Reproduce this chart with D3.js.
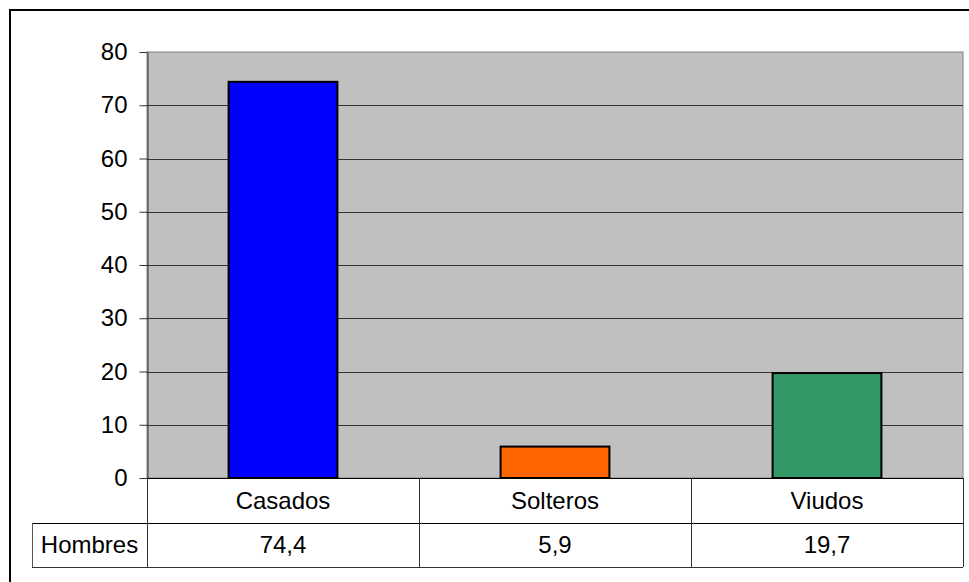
<!DOCTYPE html>
<html>
<head>
<meta charset="utf-8">
<script src="https://cdn.jsdelivr.net/npm/d3@7"></script>
<style>
  body { margin: 0; background: #fff; }
  text { font-family: "Liberation Sans", Arial, sans-serif; }
</style>
</head>
<body>
<div id="chart"></div>
<script>
var categories = ["Casados", "Solteros", "Viudos"];
var values = [74.4, 5.9, 19.7];
var valueLabels = ["74,4", "5,9", "19,7"];
var seriesName = "Hombres";
var colors = ["#0000FF", "#FF6600", "#339966"];
var yTicks = [0, 10, 20, 30, 40, 50, 60, 70, 80];

var W = 969, H = 582;
var plotL = 147, plotR = 963, plotT = 52, plotB = 478;
var row1 = 523, row2 = 567, tableLeft = 32;

var svg = d3.select("#chart").append("svg")
  .attr("width", W)
  .attr("height", H);

// outer chart border (cropped on right and bottom)
svg.append("rect")
  .attr("x", 10).attr("y", 10)
  .attr("width", 962).attr("height", 590)
  .attr("fill", "none")
  .attr("stroke", "#000")
  .attr("stroke-width", 2);

var x = d3.scaleBand().domain(categories).range([plotL, plotR]).paddingInner(0).paddingOuter(0);
var y = d3.scaleLinear().domain([0, 80]).range([plotB, plotT]);

// plot background
svg.append("rect")
  .attr("x", plotL).attr("y", plotT)
  .attr("width", plotR - plotL).attr("height", plotB - plotT)
  .attr("fill", "#C0C0C0")
  .attr("stroke", "#808080")
  .attr("stroke-width", 1);

// grid lines
svg.append("g").selectAll("line")
  .data(yTicks.filter(function(d){ return d > 0 && d < 80; }))
  .enter().append("line")
  .attr("x1", plotL).attr("x2", plotR)
  .attr("y1", function(d){ return Math.round(y(d)) + 0.5; })
  .attr("y2", function(d){ return Math.round(y(d)) + 0.5; })
  .attr("stroke", "#333")
  .attr("stroke-width", 1);

// bars
var bw = x.bandwidth() * 0.4;
svg.append("g").selectAll("rect")
  .data(values)
  .enter().append("rect")
  .attr("x", function(d, i){ return x(categories[i]) + (x.bandwidth() - bw) / 2; })
  .attr("y", function(d){ return y(d); })
  .attr("width", bw)
  .attr("height", function(d){ return plotB - y(d); })
  .attr("fill", function(d, i){ return colors[i]; })
  .attr("stroke", "#000")
  .attr("stroke-width", 2);

// y axis
var yAxis = d3.axisLeft(y).tickValues(yTicks).tickSize(8).tickPadding(12).tickSizeOuter(0);
var ga = svg.append("g")
  .attr("transform", "translate(" + (plotL + 0.5) + ",0)")
  .call(yAxis);
ga.select(".domain").attr("stroke", "#333");
ga.selectAll(".tick line").attr("stroke", "#333");
ga.selectAll(".tick text")
  .attr("font-size", 24)
  .attr("fill", "#000")
  .style("font-family", "'Liberation Sans', Arial, sans-serif");

// data table
var tbl = svg.append("g");
// axis line extended down through table
tbl.append("line")
  .attr("x1", plotL + 0.5).attr("x2", plotL + 0.5)
  .attr("y1", plotB).attr("y2", row2)
  .attr("stroke", "#333");
// zero line
tbl.append("line")
  .attr("x1", plotL).attr("x2", plotR)
  .attr("y1", plotB + 0.5).attr("y2", plotB + 0.5)
  .attr("stroke", "#000");
// horizontal lines
tbl.append("line")
  .attr("x1", tableLeft).attr("x2", plotR)
  .attr("y1", row1 + 0.5).attr("y2", row1 + 0.5)
  .attr("stroke", "#000");
tbl.append("line")
  .attr("x1", tableLeft).attr("x2", plotR)
  .attr("y1", row2 + 0.5).attr("y2", row2 + 0.5)
  .attr("stroke", "#333");
// left cell border
tbl.append("line")
  .attr("x1", tableLeft + 0.5).attr("x2", tableLeft + 0.5)
  .attr("y1", row1).attr("y2", row2)
  .attr("stroke", "#555");
// vertical separators
tbl.selectAll("line.sep")
  .data(categories.slice(1).concat(["end"]))
  .enter().append("line")
  .attr("class", "sep")
  .attr("x1", function(d){ return d === "end" ? plotR + 0.5 : x(d) + 0.5; })
  .attr("x2", function(d){ return d === "end" ? plotR + 0.5 : x(d) + 0.5; })
  .attr("y1", plotB).attr("y2", row2)
  .attr("stroke", "#333");

// category labels
tbl.selectAll("text.cat")
  .data(categories)
  .enter().append("text")
  .attr("class", "cat")
  .attr("x", function(d){ return x(d) + x.bandwidth() / 2; })
  .attr("y", (plotB + row1) / 2)
  .attr("dy", "0.35em")
  .attr("text-anchor", "middle")
  .attr("font-size", 24)
  .text(function(d){ return d; });

// values row
tbl.selectAll("text.val")
  .data(valueLabels)
  .enter().append("text")
  .attr("class", "val")
  .attr("x", function(d, i){ return x(categories[i]) + x.bandwidth() / 2; })
  .attr("y", (row1 + row2) / 2)
  .attr("dy", "0.35em")
  .attr("text-anchor", "middle")
  .attr("font-size", 24)
  .text(function(d){ return d; });

tbl.append("text")
  .attr("x", (tableLeft + plotL) / 2)
  .attr("y", (row1 + row2) / 2)
  .attr("dy", "0.35em")
  .attr("text-anchor", "middle")
  .attr("font-size", 24)
  .text(seriesName);
</script>
</body>
</html>
